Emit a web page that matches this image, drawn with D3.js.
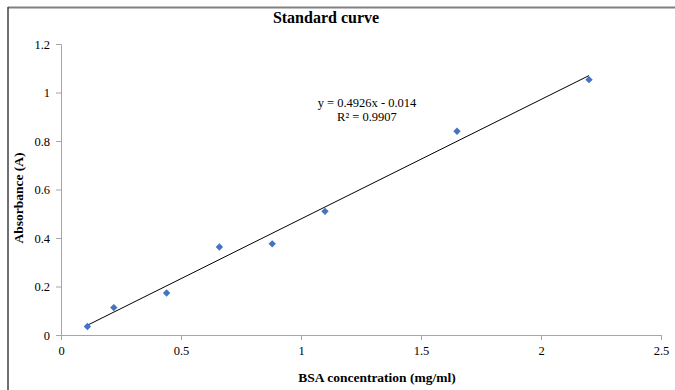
<!DOCTYPE html>
<html>
<head>
<meta charset="utf-8">
<script src="https://cdn.jsdelivr.net/npm/d3@7"></script>
<style>
  body { margin: 0; background: #fff; }
  svg text { font-family: "Liberation Serif", "Times New Roman", serif; }
</style>
</head>
<body>
<svg id="chart" width="675" height="390"></svg>
<script>
// BSA standard curve data
var concentration = [0.11, 0.22, 0.44, 0.66, 0.88, 1.1, 1.65, 2.2];
var absorbance = [0.035, 0.113, 0.173, 0.363, 0.376, 0.51, 0.84, 1.053];
var slope = 0.4926;
var intercept = -0.014;
var xTicks = [0, 0.5, 1, 1.5, 2, 2.5];
var yTicks = [0, 0.2, 0.4, 0.6, 0.8, 1, 1.2];

var serif = "Liberation Serif, Times New Roman, serif";
var svg = d3.select("#chart");

// outer frame (only top and left edges show)
svg.append("line").attr("x1", 8).attr("x2", 675).attr("y1", 7.5).attr("y2", 7.5)
  .attr("stroke", "#808080").attr("stroke-width", 2);
svg.append("line").attr("x1", 8).attr("x2", 8).attr("y1", 7).attr("y2", 390)
  .attr("stroke", "#404040").attr("stroke-width", 1.5);

var x = d3.scaleLinear().domain([0, 2.5]).range([61, 661]);
var y = d3.scaleLinear().domain([0, 1.2]).range([335, 44]);

var yAxis = svg.append("g").attr("transform", "translate(61,0)")
  .call(d3.axisLeft(y).tickValues(yTicks).tickSize(5).tickPadding(6)
    .tickFormat(function (d) { return +d.toFixed(1); }));
var xAxis = svg.append("g").attr("transform", "translate(0,335)")
  .call(d3.axisBottom(x).tickValues(xTicks).tickSize(5).tickPadding(6)
    .tickFormat(function (d) { return +d.toFixed(1); }));

[xAxis, yAxis].forEach(function (a) {
  a.attr("font-family", serif).attr("font-size", 12.5);
  a.select(".domain").attr("stroke", "#a6a6a6");
  a.selectAll(".tick line").attr("stroke", "#a6a6a6");
  a.selectAll(".tick text").attr("fill", "#000");
});

// linear trendline
var x0 = d3.min(concentration), x1 = d3.max(concentration);
svg.append("line")
  .attr("x1", x(x0)).attr("y1", y(slope * x0 + intercept))
  .attr("x2", x(x1)).attr("y2", y(slope * x1 + intercept))
  .attr("stroke", "#000").attr("stroke-width", 1);

// diamond markers
svg.append("g").selectAll("rect")
  .data(concentration)
  .join("rect")
  .attr("x", -2.6).attr("y", -2.6).attr("width", 5.2).attr("height", 5.2)
  .attr("transform", function (d, i) {
    return "translate(" + x(d) + "," + y(absorbance[i]) + ") rotate(45)";
  })
  .attr("fill", "#4472c4");

// equation
svg.append("text").attr("x", 367).attr("y", 107).attr("text-anchor", "middle")
  .style("font-size", "12.5px").text("y = 0.4926x - 0.014");
svg.append("text").attr("x", 367).attr("y", 121).attr("text-anchor", "middle")
  .style("font-size", "12.5px").text("R² = 0.9907");

// titles
svg.append("text").attr("x", 326).attr("y", 23).attr("text-anchor", "middle")
  .style("font-size", "16px").style("font-weight", "bold").text("Standard curve");
svg.append("text").attr("x", 377).attr("y", 382).attr("text-anchor", "middle")
  .style("font-size", "13.5px").style("font-weight", "bold").text("BSA concentration (mg/ml)");
svg.append("text")
  .attr("transform", "translate(23,198) rotate(-90)")
  .attr("text-anchor", "middle")
  .style("font-size", "13.5px").style("font-weight", "bold").text("Absorbance (A)");
</script>
</body>
</html>
